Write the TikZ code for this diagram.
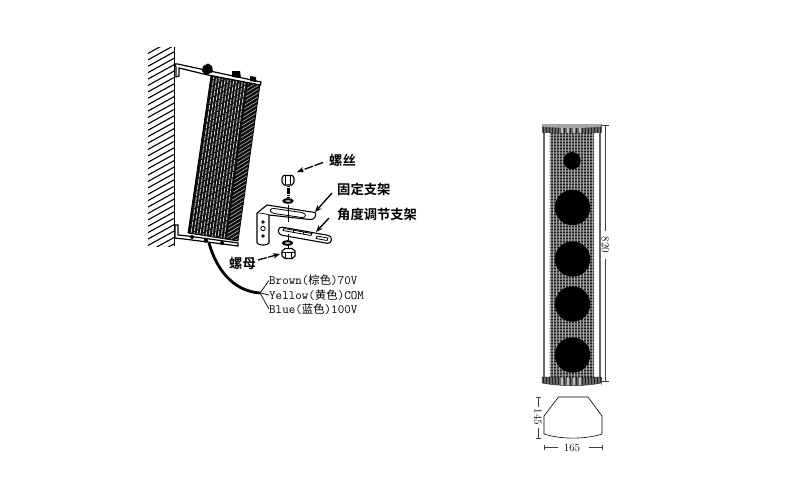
\documentclass[tikz,border=0pt]{standalone}
\usepackage{fontspec}
\setmonofont{Latin Modern Mono}
\newfontfamily\cjk{Noto Sans CJK SC}
\newfontfamily\cjkb{Noto Sans CJK SC Bold}
\usetikzlibrary{calc,arrows.meta}
\tikzset{
 part/.style={draw=black,line width=0.8pt,fill=white},
 steel/.style={draw=black,line width=1.1pt,fill=white},
 callout/.style={font=\cjkb\fontsize{13.3}{14}\selectfont,inner sep=0pt,anchor=west},
 lead/.style={line width=1.3pt,-{Stealth[length=7pt,width=5.5pt]},dash pattern=on 9pt off 1.5pt},
 wirelabel/.style={font=\ttfamily\fontsize{12.7}{13}\selectfont,inner sep=0pt,anchor=west},
 dim/.style={draw=black!75,line width=0.7pt},
 dimtext/.style={font=\fontsize{11}{11}\selectfont,inner sep=1pt},
 cone/.style={fill=black},
}
\newcommand{\zhs}[1]{{\cjk\fontsize{11.4}{13}\selectfont #1}}
\begin{document}
\begin{tikzpicture}[x=1pt,y=-1pt]
\useasboundingbox (0,0) rectangle (800,496);
% --- wall
\begin{scope}
\clip (148,47) rectangle (174.5,246);
\foreach \k in {0,...,32}{
 \draw[line width=1.1pt] (147,{54+6.4*\k}) -- (176,{38+6.4*\k});
}
\end{scope}
\draw[line width=1.2pt] (174.5,47) -- (174.5,246);
% --- speaker body
\coordinate (tl) at (211,76);
\coordinate (tm) at (248,82);
\coordinate (tr) at (260,84.5);
\coordinate (bl) at (188,233);
\coordinate (bm) at (227,239);
\coordinate (br) at (238,241);
\fill[black!95] (tl)--(tr)--(br)--(bl)--cycle;
\begin{scope}
\clip (tl)--(tm)--(bm)--(bl)--cycle;
\foreach \k in {1,...,12}{
 \pgfmathsetmacro{\t}{\k/13}
 \draw[white!80!black,line width=0.85pt,dash pattern=on 5pt off 1.2pt,dash phase={\k*2.2}] ($(tl)!\t!(tm)$) -- ($(bl)!\t!(bm)$);
}
\end{scope}
\begin{scope}
\clip (tm)--(tr)--(br)--(bm)--cycle;
\foreach \k in {0,...,50}{
 \draw[white!75!black,line width=0.55pt] (215,{74+3.8*\k}) -- (270,{40+3.8*\k});
}
\end{scope}
\draw[line width=0.8pt] (tl)--(tr)--(br)--(bl)--cycle;
% top bracket
\draw[steel,line width=1.2pt] (174.5,64) -- (177.5,64) -- (261,82) -- (260.5,85) -- (208,75) -- (179,68) -- (179,76) -- (176,77) -- (176,67) -- cycle;
\fill (203,66) -- (208,63.5) -- (212,66) -- (213,72) -- (206,75) -- (202,71) -- cycle;
\fill (232,71) -- (240,71) -- (241,78) -- (232,77) -- cycle;
\fill (250,76) -- (256,77) -- (256,82) -- (250,81) -- cycle;
% bottom bracket
\draw[steel,line width=1.2pt] (175,225) -- (178,225) -- (178,235) -- (188,236) -- (238,243) -- (238,246) -- (188,239.5) -- (175,238) -- cycle;
\fill (192,237) circle (2) (206,240.5) circle (2.2) (222,243) circle (2);
% --- cable
\coordinate (cabletop) at (209,243);
\coordinate (cablehub) at (260,293);
\draw[line width=2.8pt] (cabletop) .. controls (216,268) and (232,291) .. (cablehub);
% --- wire labels
\node[wirelabel] (wb) at (269,280.5) {Brown(\zhs{棕色})70V};
\node[wirelabel] (wy) at (269,295) {Yellow(\zhs{黄色})COM};
\node[wirelabel] (wl) at (269,309) {Blue(\zhs{蓝色})100V};
\draw[line width=0.7pt] (cablehub) -- (wb.west);
\draw[line width=0.7pt] (cablehub) -- (wy.west);
\draw[line width=0.7pt] (cablehub) -- (wl.west);
% fixed bracket
\draw[steel,line join=round] (257,213) -- (267,205) -- (315,212.5) .. controls (317,216) and (314,220) .. (310,219.5) -- (269,215) -- (269,243) .. controls (268,245.5) and (259,246) .. (257,243) -- cycle;
\draw[part] (274,208.5) -- (302,212.5) .. controls (307,213.5) and (306,218) .. (302,217.5) -- (274,213.5) .. controls (269,212.5) and (269,208) .. (274,208.5) -- cycle;
\draw[line width=0.7pt] (257,213) .. controls (262,213) and (266,214) .. (269,215);
\draw[part] (263,222) circle (1.2) (263,228.5) circle (2.2) (263,236) circle (1.2);
\draw[line width=0.7pt] (288,205) -- (288,222);
% adjusting bracket
\draw[steel,rounded corners=4pt] (278.5,226.5) -- (332,236) -- (331,244) -- (278,234.5) -- cycle;
\draw[part] (284,228.5) -- (312,233.5) -- (311,235.5) -- (283,230.5) -- cycle;
\draw[line width=0.7pt] (293,230) -- (293,232) (303,232) -- (303,234);
\draw[part] (317,236) -- (328,238) -- (327,240.5) -- (316,238.5) -- cycle;
\draw[line width=0.7pt] (288,234) -- (288,250);
% screw
\draw[line width=3pt,dash pattern=on 1.3pt off 0.8pt] (288,184) -- (288,199);
\draw[steel] (283.5,175.5) -- (292.5,175.5) -- (294,178) -- (294,182) -- (292,185) -- (284,185) -- (282,182) -- (282,178) -- cycle;
\draw[line width=0.6pt] (285.5,176) -- (285.5,184.5) (290.5,176) -- (290.5,184.5);
\draw[line width=2pt,fill=white] (288,201) ellipse (4.5 and 1.8);
% washer and nut
\draw[line width=2pt,fill=white] (287.5,243) ellipse (4.5 and 1.8);
\draw[steel] (282,251) -- (285,248.5) -- (292,248.5) -- (295,251) -- (295,256) -- (292,258.5) -- (285,258.5) -- (282,256) -- cycle;
\draw[line width=0.6pt] (282,252) -- (295,252) (285.5,252) -- (285.5,258) (291.5,252) -- (291.5,258);
% --- callouts
\node[callout] (lscrew) at (329,160) {螺丝};
\node[callout] (lfix) at (337,189) {固定支架};
\node[callout] (ladj) at (337,214) {角度调节支架};
\node[callout] (lnut) at (229,263) {螺母};
\coordinate (pscrew) at (297,172);
\coordinate (pfix) at (315,212);
\coordinate (padj) at (316,232);
\coordinate (pnut) at (280,254);
\draw[lead] (323,162.5) -- (pscrew);
\draw[lead,dash pattern=] (332,193) -- (pfix);
\draw[lead,dash pattern=] (329,218) -- (padj);
\draw[lead] (258,260) -- (pnut);
% --- front view
\draw[line width=2pt,black!60] (543.5,133) -- (543.5,377);
\draw[line width=2pt,black!60] (600,133) -- (600,377);
\fill[black!60] (549.5,133) rectangle (594,377);
\begin{scope}
\clip (549.5,133) rectangle (594,377);
\foreach \k in {0,...,81}{\draw[black!90,line width=0.8pt] (549,{133+3*\k}) -- (595,{133+3*\k});}
\foreach \k in {0,...,15}{\draw[white!65!black,line width=0.9pt] ({550.5+3*\k},133) -- ({550.5+3*\k},377);}
\end{scope}
% caps
\foreach \ya/\yb in {124/133, 377/386}{
 \begin{scope}
 \clip (542,\ya) rectangle (602,\yb);
 \fill[black!60] (542,\ya) rectangle (602,\yb);
 \foreach \k in {0,...,19}{\draw[black!85,line width=0.9pt] ({543+3*\k},\ya) -- ({543+3*\k},\yb);}
 \foreach \k in {0,...,3}{\draw[black!25,line width=1.2pt] ({562+6*\k},\ya) -- ({562+6*\k},\yb);}
 \end{scope}
}
\fill[black!35] (542,124) -- (601,124) -- (601,126.5) .. controls (585,128.5) and (560,128.5) .. (542,126.5) -- cycle;
\fill[white] (542,383) .. controls (560,386.5) and (585,386.5) .. (601,383) -- (602,387) -- (542,387) -- cycle;
\draw[line width=0.5pt,black!80] (542,377) -- (601,377) -- (601,383) .. controls (585,386.5) and (560,386.5) .. (542,383) -- cycle;
% drivers
\fill[cone] (572,160.7) circle (8.7);
\foreach \cy in {207.5,259,304,355}{\fill[cone] (572.5,\cy) circle (17.7);}
% height dimension
\coordinate (ha) at (605.5,125);
\coordinate (hb) at (605.5,381);
\node[dimtext,rotate=-90] (h820) at (605.5,245) {820};
\draw[dim] (ha) -- (605.5,231);
\draw[dim] (605.5,259) -- (hb);
\draw[dim] (602,125) -- (609,125) (602,381) -- (609,381);
% --- section
\draw[line width=0.6pt,line join=round] (558.5,397) -- (588,397) -- (602,416) -- (602,434) .. controls (585,439.5) and (561,439.5) .. (544,434) -- (544,416) -- cycle;
\node[dimtext,rotate=-90] (h145) at (538,417) {145};
\draw[dim] (538,397) -- (538,407);
\draw[dim] (538,428) -- (538,438);
\draw[dim] (535.5,397) -- (540.5,397) (535.5,438) -- (540.5,438);
\node[dimtext] (w165) at (572,448) {165};
\draw[dim] (544.5,447) -- (558,447);
\draw[dim] (589,447) -- (602.5,447);
\draw[dim] (544.5,444.5) -- (544.5,449.5) (602.5,444.5) -- (602.5,449.5);
\end{tikzpicture}
\end{document}
